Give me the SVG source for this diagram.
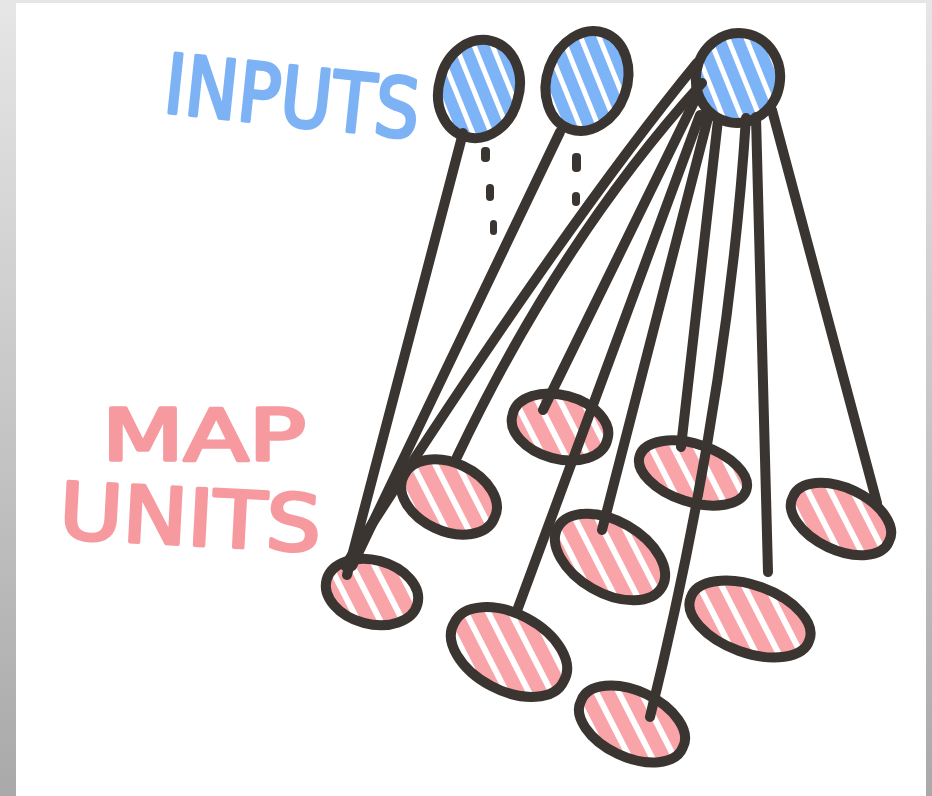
<svg xmlns="http://www.w3.org/2000/svg" width="932" height="796" viewBox="0 0 932 796">
  <defs>
    <linearGradient id="frame" x1="0" y1="0" x2="0" y2="1">
      <stop offset="0" stop-color="#e6e6e6"/>
      <stop offset="1" stop-color="#a9a9a9"/>
    </linearGradient>
    <!-- marker hatching: coloured bands with thin white gaps -->
    <pattern id="hatchBlue" width="17" height="17" patternUnits="userSpaceOnUse" patternTransform="rotate(-22)">
      <rect width="17" height="17" fill="#7db3f7"/>
      <rect x="12" width="5" height="17" fill="#ffffff"/>
    </pattern>
    <pattern id="hatchPink" width="20" height="20" patternUnits="userSpaceOnUse" patternTransform="rotate(-27)">
      <rect width="20" height="20" fill="#f8a4a8"/>
      <rect x="14" width="6" height="20" fill="#ffffff"/>
    </pattern>
  </defs>
  <style>
    .input { fill: url(#hatchBlue); stroke: #3a3531; stroke-width: 10; }
    .unit { fill: url(#hatchPink); stroke: #3a3531; stroke-width: 10; }
    .wire { fill: none; stroke: #3a3531; stroke-width: 10; stroke-linecap: round; }
    .dot { fill: #3a3531; }
    .label { font-family: "DejaVu Sans", "Liberation Sans", sans-serif; stroke-width: 3.5; stroke-linejoin: round; stroke-linecap: round; }
    .blue { fill: #7db2f5; stroke: #7db2f5; }
    .pink { fill: #f69aa0; stroke: #f69aa0; }
  </style>

  <!-- paper and frame -->
  <rect width="932" height="796" fill="url(#frame)"/>
  <rect x="16" y="3" width="910" height="793" fill="#ffffff"/>

  <!-- labels -->
  <g id="label-inputs">
    <text class="label blue" x="162" y="112" font-size="82" textLength="256" lengthAdjust="spacingAndGlyphs" transform="rotate(6 162 112)">INPUTS</text>
  </g>
  <g id="label-map-units">
    <text class="label pink" x="102" y="460" font-size="72" textLength="204" lengthAdjust="spacingAndGlyphs">MAP</text>
    <text class="label pink" x="58" y="538" font-size="78" textLength="262" lengthAdjust="spacingAndGlyphs" transform="rotate(3 58 538)">UNITS</text>
  </g>

  <!-- input nodes (tilted ellipses drawn as arcs so the hatching keeps one angle) -->
  <g id="input-1">
    <path class="input" d="M440.4 78.6 A40 48 15 1 0 517.6 99.4 A40 48 15 1 0 440.4 78.6 Z"/>
    <rect class="dot" x="481" y="147" width="9" height="15" rx="4"/>
    <rect class="dot" x="486" y="184" width="8" height="17" rx="4"/>
    <rect class="dot" x="490" y="220" width="7" height="15" rx="3.5"/>
  </g>
  <g id="input-2">
    <path class="input" d="M549.4 67.3 A40 51 20 1 0 624.6 94.7 A40 51 20 1 0 549.4 67.3 Z"/>
    <rect class="dot" x="572" y="153" width="9" height="19" rx="4"/>
    <rect class="dot" x="572" y="192" width="8" height="14" rx="4"/>
  </g>
  <g id="input-3">
    <path class="input" d="M696.6 70.7 A42 45 10 1 0 779.4 85.3 A42 45 10 1 0 696.6 70.7 Z"/>
  </g>

  <!-- map units -->
  <g id="unit-a"><path class="unit" d="M326.6 579.8 A47 32 15 1 0 417.4 604.2 A47 32 15 1 0 326.6 579.8 Z"/></g>
  <g id="unit-b"><path class="unit" d="M403.7 475.9 A50 33 25 1 0 494.3 518.1 A50 33 25 1 0 403.7 475.9 Z"/></g>
  <g id="unit-c"><path class="unit" d="M512.7 414.3 A49 31 15 1 0 607.3 439.7 A49 31 15 1 0 512.7 414.3 Z"/></g>
  <g id="unit-d"><path class="unit" d="M639.7 455.7 A56 29 18 1 0 746.3 490.3 A56 29 18 1 0 639.7 455.7 Z"/></g>
  <g id="unit-e"><path class="unit" d="M793 496.6 A53 30 25 1 0 889 541.4 A53 30 25 1 0 793 496.6 Z"/></g>
  <g id="unit-f"><path class="unit" d="M558 527 A60 36 30 1 0 662 587 A60 36 30 1 0 558 527 Z"/></g>
  <g id="unit-g"><path class="unit" d="M690.8 597.5 A63 33 20 1 0 809.2 640.5 A63 33 20 1 0 690.8 597.5 Z"/></g>
  <g id="unit-h"><path class="unit" d="M454.3 622.9 A62 37 28 1 0 563.7 681.1 A62 37 28 1 0 454.3 622.9 Z"/></g>
  <g id="unit-i"><path class="unit" d="M581.3 700.3 A56 32 25 1 0 682.7 747.7 A56 32 25 1 0 581.3 700.3 Z"/></g>

  <!-- connections from inputs to map units -->
  <g id="connectors">
    <path class="wire" d="M463 133 L347 575"/>
    <path class="wire" d="M560 132 L352 566"/>
    <path class="wire" d="M697 63 Q560 230 345 566"/>
    <path class="wire" d="M702 83 Q560 240 457 457"/>
    <path class="wire" d="M695 100 L543 410"/>
    <path class="wire" d="M700 115 L518 608"/>
    <path class="wire" d="M708 118 L602 530"/>
    <path class="wire" d="M718 120 L681 447"/>
    <path class="wire" d="M746 118 Q728 400 650 717"/>
    <path class="wire" d="M756 117 L768 572"/>
    <path class="wire" d="M772 110 L877 503"/>
  </g>
</svg>
